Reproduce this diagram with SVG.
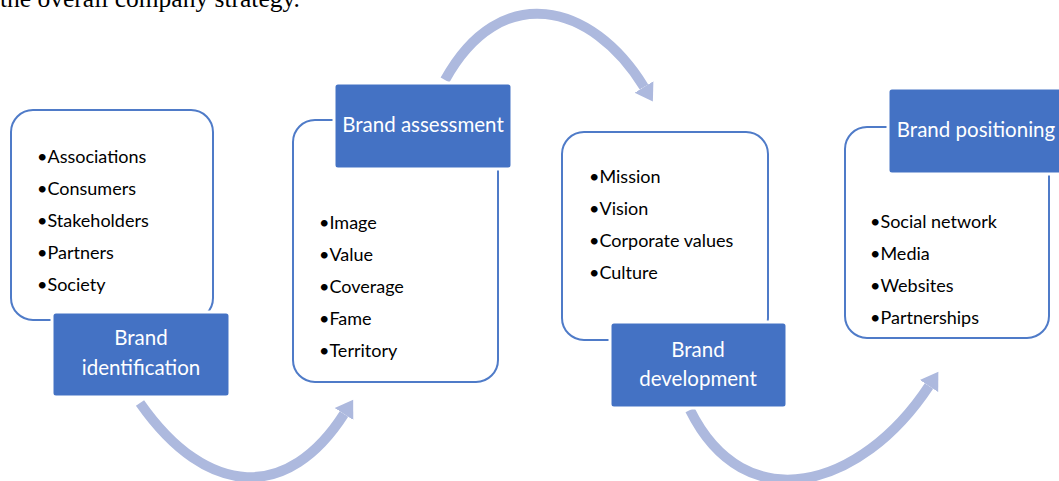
<svg xmlns="http://www.w3.org/2000/svg" width="1059" height="481" viewBox="0 0 1059 481">
  <style>
    .frame { fill: #ffffff; stroke: #4f7bc8; stroke-width: 2; }
    .head { fill: #4472c4; stroke: #ffffff; stroke-width: 3; }
    .head-text { font-family: Lato, "Liberation Sans", sans-serif; font-size: 20.5px; fill: #ffffff; text-anchor: middle; }
    .item { font-family: Lato, "Liberation Sans", sans-serif; font-size: 18px; fill: #000000; }
    .flow { fill: none; stroke: #adb9de; stroke-width: 10; }
    .caption { font-family: "Liberation Serif", serif; font-size: 25.5px; fill: #000000; }
  </style>
  <defs>
    <marker id="tip" markerUnits="userSpaceOnUse" markerWidth="20" markerHeight="24" refX="0" refY="12" orient="auto" viewBox="0 0 20 24">
      <path d="M0,1 L17,12 L0,23 Z" fill="#adb9de"/>
    </marker>
  </defs>

  <rect width="1059" height="481" fill="#ffffff"/>
  <text class="caption" x="0" y="7">the overall company strategy.</text>

  <!-- curved flow arrows between stages -->
  <g id="connectors">
    <path class="flow" d="M140,403 C208,500 289,500 344,414" marker-end="url(#tip)"/>
    <path class="flow" d="M445,80 C500,-20 592,2 644,87" marker-end="url(#tip)"/>
    <path class="flow" d="M690,410 C745,521 861,489 929,386" marker-end="url(#tip)"/>
  </g>

  <g id="brand-identification">
    <rect class="frame" x="11" y="110" width="202" height="210" rx="22"/>
    <text class="item" x="37" y="163">•Associations</text>
    <text class="item" x="37" y="195">•Consumers</text>
    <text class="item" x="37" y="227">•Stakeholders</text>
    <text class="item" x="37" y="259">•Partners</text>
    <text class="item" x="37" y="291">•Society</text>
    <rect class="head" x="52" y="312" width="178" height="85" rx="4"/>
    <text class="head-text" x="141" y="345">Brand</text>
    <text class="head-text" x="141" y="375">identification</text>
  </g>

  <g id="brand-assessment">
    <rect class="frame" x="293" y="120" width="205" height="262" rx="22"/>
    <rect class="head" x="334" y="83" width="178" height="86" rx="4"/>
    <text class="head-text" x="423" y="132">Brand assessment</text>
    <text class="item" x="319" y="229">•Image</text>
    <text class="item" x="319" y="261">•Value</text>
    <text class="item" x="319" y="293">•Coverage</text>
    <text class="item" x="319" y="325">•Fame</text>
    <text class="item" x="319" y="357">•Territory</text>
  </g>

  <g id="brand-development">
    <rect class="frame" x="562" y="132" width="206" height="208" rx="22"/>
    <text class="item" x="589" y="183">•Mission</text>
    <text class="item" x="589" y="215">•Vision</text>
    <text class="item" x="589" y="247">•Corporate values</text>
    <text class="item" x="589" y="279">•Culture</text>
    <rect class="head" x="610" y="322" width="177" height="86" rx="4"/>
    <text class="head-text" x="698" y="357">Brand</text>
    <text class="head-text" x="698" y="386">development</text>
  </g>

  <g id="brand-positioning">
    <rect class="frame" x="845" y="127" width="204" height="211" rx="22"/>
    <rect class="head" x="888" y="88" width="190" height="86" rx="4"/>
    <text class="head-text" x="976" y="137">Brand positioning</text>
    <text class="item" x="870" y="228">•Social network</text>
    <text class="item" x="870" y="260">•Media</text>
    <text class="item" x="870" y="292">•Websites</text>
    <text class="item" x="870" y="324">•Partnerships</text>
  </g>
</svg>
